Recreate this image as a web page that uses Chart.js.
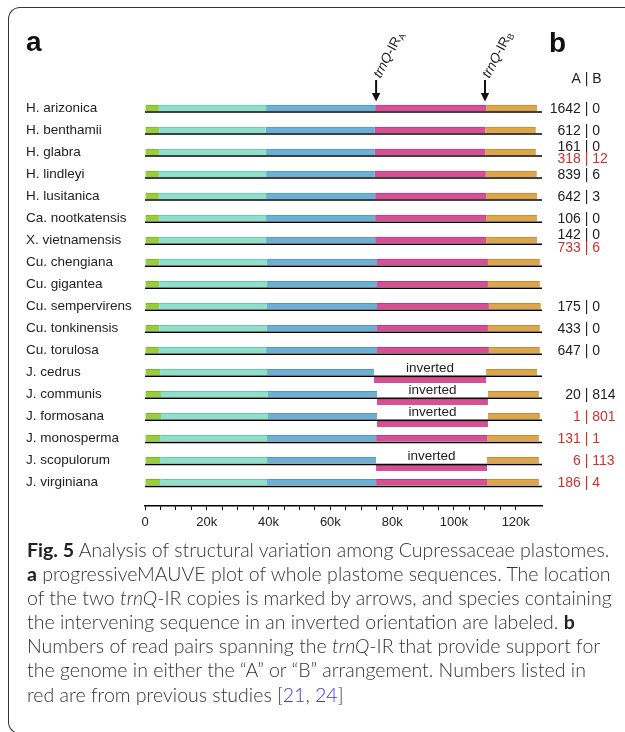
<!DOCTYPE html>
<html><head><meta charset="utf-8">
<script src="https://cdn.jsdelivr.net/npm/chart.js@4/dist/chart.umd.min.js"></script>
<style>
html,body{margin:0;padding:0;background:#fff;width:625px;height:732px;overflow:hidden;}
#frame{position:absolute;left:8px;top:7px;width:800px;height:727px;border-top:1.6px solid #333;border-left:1.6px solid #333;border-bottom:1.6px solid #333;border-right:none;border-top-left-radius:12px;border-bottom-left-radius:12px;box-sizing:border-box;}
#wrap{position:absolute;left:0;top:0;width:625px;height:540px;}
#caption{position:absolute;left:27px;top:538px;font-family:Lato,'Noto Sans',sans-serif;font-weight:300;font-size:18px;line-height:24.1px;color:#333;white-space:nowrap;}
#caption div{height:24.1px;}
#caption b{font-weight:700;color:#222;}
#caption .ref{color:#3b3bd6;}
</style></head>
<body>
<div id="frame"></div>
<div id="wrap"><canvas id="c" width="625" height="540"></canvas></div>
<div id="caption">
<div id="l1"><b>Fig. 5</b> Analysis of structural variation among Cupressaceae plastomes.</div>
<div><b>a</b> progressiveMAUVE plot of whole plastome sequences. The location</div>
<div>of the two <i>trnQ</i>-IR copies is marked by arrows, and species containing</div>
<div>the intervening sequence in an inverted orientation are labeled. <b>b</b></div>
<div>Numbers of read pairs spanning the <i>trnQ</i>-IR that provide support for</div>
<div>the genome in either the “A” or “B” arrangement. Numbers listed in</div>
<div>red are from previous studies [<span class="ref">21</span>, <span class="ref">24</span>]</div>
</div>
<script>
// ---- data (kb) ----
const species = ['H. arizonica','H. benthamii','H. glabra','H. lindleyi','H. lusitanica','Ca. nootkatensis','X. vietnamensis','Cu. chengiana','Cu. gigantea','Cu. sempervirens','Cu. tonkinensis','Cu. torulosa','J. cedrus','J. communis','J. formosana','J. monosperma','J. scopulorum','J. virginiana'];
const greenEnd   = [4.5,4.5,4.5,4.5,4.5,4.5,4.5,4.6,4.6,4.6,4.6,4.5,4.9,5.2,5.2,4.9,4.9,4.9];
const tealEnd    = [39.2,39.1,39.2,39.2,39.2,39.2,39.2,39.3,39.3,39.5,39.3,39.2,39.5,39.8,39.8,39.5,39.5,39.5];
const blueEnd    = [74.5,74.4,74.4,74.4,74.5,74.5,74.5,75.1,75.1,75.1,75.1,75.1,74.1,75.1,75.1,74.8,74.8,74.8];
const magentaEnd = [110.4,110.2,110.2,110.3,110.4,110.4,110.4,111.0,111.0,111.3,111.0,111.3,110.4,111.0,111.0,110.7,110.7,110.7];
const orangeEnd  = [126.9,126.5,126.5,126.8,126.9,126.9,126.9,127.8,127.8,128.1,127.8,127.8,126.9,127.5,127.8,127.5,127.5,127.5];
const inverted   = [0,0,0,0,0,0,0,0,0,0,0,0,1,1,1,0,1,0];
const newReadsA  = [1642,612,161,839,642,106,142,null,null,175,433,647,null,20,null,null,null,null];
const newReadsB  = [0,0,0,6,3,0,0,null,null,0,0,0,null,814,null,null,null,null];
const prevReadsA = [null,null,318,null,null,null,733,null,null,null,null,null,null,null,1,131,6,186];
const prevReadsB = [null,null,12,null,null,null,6,null,null,null,null,null,null,null,801,1,113,4];
const trnQPos    = [74.8,110.05];
const trnQNames  = ['A','B'];
const xTickStep = 5, xLabelStep = 20, xMax = 128.5;

const FONT = "'Liberation Sans', Arial, Helvetica, sans-serif";
Chart.defaults.font.family = FONT;
Chart.defaults.color = '#222';

const INV_OFF = 0.345;
function seg(startArr, endArr, filter, off) {
  const out = [];
  species.forEach((s,i)=>{ if(filter(i)) out.push({x:[startArr ? startArr[i] : 0, endArr[i]], y:i + (off||0)}); });
  return out;
}
const all = ()=>true;
const mk = (data,bg,bd)=>({data, backgroundColor:bg, borderColor:bd, borderWidth:{top:1,bottom:0,left:0,right:0}, borderSkipped:false, barThickness:6});

const datasets = [
  mk(seg(null, greenEnd, all), '#98cd3c', '#7db52a'),
  mk(seg(greenEnd, tealEnd, all), '#8ee0ca', '#66c8ae'),
  mk(seg(tealEnd, blueEnd, all), '#6cb0d6', '#5398c2'),
  mk(seg(blueEnd, magentaEnd, i=>!inverted[i]), '#d84f96', '#bd3a80'),
  mk(seg(blueEnd, magentaEnd, i=>inverted[i], INV_OFF), '#d84f96', '#bd3a80'),
  mk(seg(magentaEnd, orangeEnd, all), '#dea54a', '#c88d30'),
];

function drawCount(ctx, a, b, y, color) {
  const left = a + ' ', bar = '|', s = left + bar + ' ' + b;
  const x0 = 586.5 - ctx.measureText(left).width - ctx.measureText(bar).width/2;
  ctx.fillStyle = color; ctx.textAlign = 'left'; ctx.fillText(s, x0, y);
}

const overlay = {
  id:'overlay',
  afterDatasetsDraw(chart){
    const ctx = chart.ctx, xs = chart.scales.x, ys = chart.scales.y, ca = chart.chartArea;
    ctx.save();
    // baselines
    ctx.strokeStyle = '#000'; ctx.lineWidth = 1.5;
    species.forEach((s,i)=>{
      const y = ys.getPixelForValue(i) + 4;
      ctx.beginPath(); ctx.moveTo(ca.left, y); ctx.lineTo(ca.right, y); ctx.stroke();
    });
    // inverted labels
    ctx.font = '13.5px ' + FONT; ctx.fillStyle = '#222'; ctx.textAlign = 'center'; ctx.textBaseline = 'middle';
    species.forEach((s,i)=>{
      if(!inverted[i]) return;
      const xm = (xs.getPixelForValue(blueEnd[i]) + xs.getPixelForValue(magentaEnd[i]))/2;
      ctx.fillText('inverted', xm, ys.getPixelForValue(i) - 4);
    });
    // counts
    ctx.font = '14px ' + FONT; ctx.textBaseline = 'middle';
    species.forEach((s,i)=>{
      const yc = ys.getPixelForValue(i);
      const hasNew = newReadsA[i] !== null, hasPrev = prevReadsA[i] !== null;
      if(hasNew && hasPrev){
        drawCount(ctx, newReadsA[i], newReadsB[i], yc - 4.7, '#222');
        drawCount(ctx, prevReadsA[i], prevReadsB[i], yc + 7.5, '#d0312d');
      } else if(hasNew){
        drawCount(ctx, newReadsA[i], newReadsB[i], yc + 1, '#222');
      } else if(hasPrev){
        drawCount(ctx, prevReadsA[i], prevReadsB[i], yc + 1, '#d0312d');
      }
    });
    drawCount(ctx, 'A', 'B', 79, '#222');
    // panel letters
    ctx.font = 'bold 28px ' + FONT; ctx.textBaseline = 'alphabetic'; ctx.fillStyle = '#111'; ctx.textAlign = 'left';
    ctx.fillText('a', 26, 51);
    ctx.fillText('b', 549, 51.5);
    // arrows + labels
    trnQPos.forEach((p,k)=>{
      const x = xs.getPixelForValue(p);
      ctx.strokeStyle = '#111'; ctx.fillStyle = '#111'; ctx.lineWidth = 2;
      ctx.beginPath(); ctx.moveTo(x, 80); ctx.lineTo(x, 95); ctx.stroke();
      ctx.beginPath(); ctx.moveTo(x-4.2, 93); ctx.lineTo(x+4.2, 93); ctx.lineTo(x, 101.5); ctx.closePath(); ctx.fill();
      ctx.save();
      ctx.translate(x + 1, 77); ctx.rotate(-62*Math.PI/180);
      ctx.textBaseline = 'middle'; ctx.textAlign = 'left'; ctx.fillStyle = '#222';
      ctx.font = 'italic 13.5px ' + FONT; ctx.fillText('trnQ', 0, 0);
      let w = ctx.measureText('trnQ').width;
      ctx.font = '13.5px ' + FONT; ctx.fillText('-IR', w, 0);
      w += ctx.measureText('-IR').width;
      ctx.font = '9px ' + FONT; ctx.fillText(trnQNames[k], w, 3.5);
      ctx.restore();
    });
    ctx.restore();
  }
};

new Chart(document.getElementById('c'), {
  type:'bar',
  data:{datasets},
  options:{
    indexAxis:'y', responsive:false, animation:false,
    layout:{padding:{top:86,left:26,right:83,bottom:0}},
    plugins:{legend:{display:false}, tooltip:{enabled:false}},
    scales:{
      x:{type:'linear', min:0, max:xMax, stacked:false, position:'bottom', offset:false,
        afterFit(s){ s.height = 34; },
        afterBuildTicks(s){ s.ticks = s.ticks.filter(t=>Math.abs(t.value/xTickStep - Math.round(t.value/xTickStep))<1e-6); },
        ticks:{stepSize:xTickStep, autoSkip:false, maxRotation:0, padding:5, color:'#222', font:{size:13},
          callback:(v)=> (v % xLabelStep === 0) ? (v===0 ? '0' : v + 'k') : ''},
        grid:{drawOnChartArea:false, drawTicks:true, tickLength:4, color:'#000', lineWidth:1, offset:false},
        border:{display:true, color:'#000', width:1.5}
      },
      y:{type:'linear', min:-1, max:18.07, reverse:true, stacked:true, offset:false,
        afterFit(s){ s.width = 119; },
        afterBuildTicks(s){ s.ticks = species.map((n,i)=>({value:i})); },
        ticks:{crossAlign:'far', autoSkip:false, padding:0, color:'#222', font:{size:13.5},
          callback:(v)=> species[v] !== undefined ? species[v] : ''},
        grid:{display:false, offset:false}, border:{display:false}
      }
    }
  },
  plugins:[overlay]
});

// fit caption first line width to the figure
const l1 = document.getElementById('l1');
const cap = document.getElementById('caption');
const r = 585 / l1.scrollWidth;
cap.style.fontSize = (18 * r).toFixed(2) + 'px';
</script>
</body></html>
